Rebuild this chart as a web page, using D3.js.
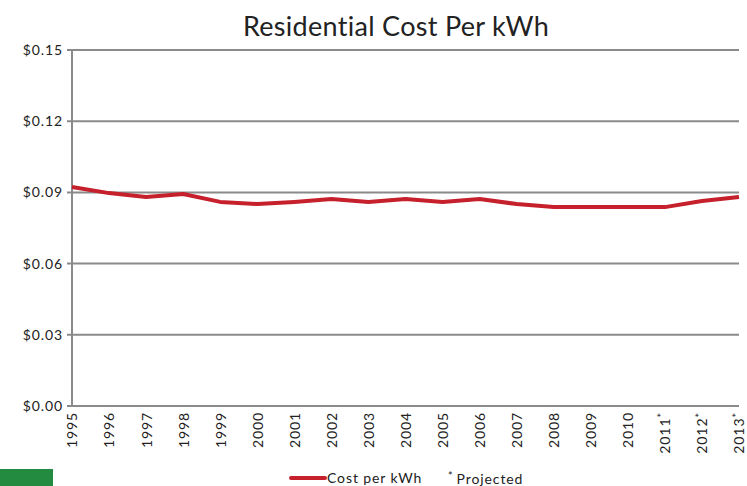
<!DOCTYPE html>
<html>
<head>
<meta charset="utf-8">
<script src="https://cdn.jsdelivr.net/npm/d3@7"></script>
<style>
  body { margin: 0; background: #fff; }
  text { font-family: "Lato", "Noto Sans", sans-serif; fill: #222; }
  .small { letter-spacing: 0.9px; }
</style>
</head>
<body>
<script>
// Chart data
var years = ["1995", "1996", "1997", "1998", "1999", "2000", "2001", "2002", "2003",
  "2004", "2005", "2006", "2007", "2008", "2009", "2010", "2011", "2012", "2013"];
var projected = ["2011", "2012", "2013"];
var costPerKwh = [0.0923, 0.0897, 0.0881, 0.0893, 0.0860, 0.0851, 0.0860, 0.0872, 0.0860,
  0.0872, 0.0860, 0.0872, 0.0851, 0.0838, 0.0838, 0.0838, 0.0838, 0.0864, 0.0881];
var yTicks = [0, 0.03, 0.06, 0.09, 0.12, 0.15];

var svgWidth = 747;
var svgHeight = 486;
var margin = { top: 50, right: 7, bottom: 80, left: 72 };
var chartWidth = svgWidth - margin.left - margin.right;
var chartHeight = svgHeight - margin.top - margin.bottom;

var svg = d3.select("body")
  .append("svg")
  .attr("width", svgWidth)
  .attr("height", svgHeight);

var chartGroup = svg.append("g")
  .attr("transform", `translate(${margin.left}, ${margin.top})`);

var xScale = d3.scalePoint()
  .domain(years)
  .range([0, chartWidth - 1]);

var yScale = d3.scaleLinear()
  .domain([0, 0.15])
  .range([chartHeight, 0]);

// Gridlines
chartGroup.append("g")
  .selectAll("line")
  .data(yTicks)
  .enter()
  .append("line")
  .attr("x1", -5)
  .attr("x2", chartWidth - 1)
  .attr("y1", d => yScale(d))
  .attr("y2", d => yScale(d))
  .attr("stroke", "#8a8a8a")
  .attr("stroke-width", 2);

// Left axis
var leftAxis = d3.axisLeft(yScale)
  .tickValues(yTicks)
  .tickSize(0)
  .tickPadding(9)
  .tickFormat(d => "$" + d3.format(".2f")(d));

var yAxisG = chartGroup.append("g").call(leftAxis);
yAxisG.select(".domain").remove();
yAxisG.selectAll("text")
  .classed("small", true)
  .style("font-size", "14px")
  .attr("fill", "#222");

chartGroup.append("line")
  .attr("x1", 0).attr("x2", 0)
  .attr("y1", 0).attr("y2", chartHeight)
  .attr("stroke", "#8a8a8a")
  .attr("stroke-width", 2);

// Bottom axis labels
var bottomAxis = d3.axisBottom(xScale).tickSize(0).tickPadding(0);
var xAxisG = chartGroup.append("g")
  .attr("transform", `translate(0, ${chartHeight})`)
  .call(bottomAxis);
xAxisG.select(".domain").remove();
xAxisG.selectAll("text")
  .classed("small", true)
  .attr("transform", "rotate(-90)")
  .attr("text-anchor", "end")
  .attr("x", -6)
  .attr("y", 0)
  .attr("dy", "0.35em")
  .style("font-size", "14px")
  .attr("fill", "#222")
  .each(function(d) {
    if (projected.indexOf(d) >= 0) {
      var t = d3.select(this);
      t.text(d);
      t.append("tspan")
        .attr("dy", "-0.35em")
        .style("font-size", "11px")
        .text("*");
    }
  });

// Line
var drawLine = d3.line()
  .x((d, i) => xScale(years[i]))
  .y(d => yScale(d));

chartGroup.append("path")
  .datum(costPerKwh)
  .attr("d", drawLine)
  .attr("fill", "none")
  .attr("stroke", "#c5202c")
  .attr("stroke-width", 4)
  .attr("stroke-linejoin", "round");

// Title
svg.append("text")
  .attr("x", 396)
  .attr("y", 36)
  .attr("text-anchor", "middle")
  .style("font-size", "27px")
  .style("letter-spacing", "0.3px")
  .text("Residential Cost Per kWh");

// Legend
svg.append("line")
  .attr("x1", 291).attr("x2", 325)
  .attr("y1", 478).attr("y2", 478)
  .attr("stroke", "#c5202c")
  .attr("stroke-width", 4)
  .attr("stroke-linecap", "round");

svg.append("text")
  .classed("small", true)
  .attr("x", 327)
  .attr("y", 483)
  .style("font-size", "14px")
  .text("Cost per kWh");

var projText = svg.append("text")
  .classed("small", true)
  .attr("x", 448)
  .attr("y", 483)
  .style("font-size", "14px");
projText.append("tspan").attr("dy", "-0.3em").style("font-size", "11px").text("*");
projText.append("tspan").attr("dy", "0.3em").attr("dx", 3).text("Projected");

// Green tab at bottom left
svg.append("rect")
  .attr("x", 0)
  .attr("y", 469)
  .attr("width", 53)
  .attr("height", 17)
  .attr("fill", "#228b3f");
</script>
</body>
</html>
